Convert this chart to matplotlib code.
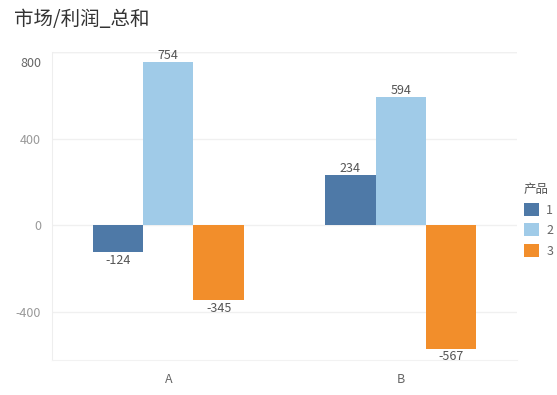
import numpy as np
import matplotlib
matplotlib.use("Agg")
import matplotlib.pyplot as plt
from matplotlib.patches import Patch
from matplotlib.transforms import ScaledTranslation

plt.rcParams['font.family'] = ['Noto Sans CJK SC', 'DejaVu Sans']

markets = ['A', 'B']
products = ['1', '2', '3']
profit = {
    '1': [-124, 234],
    '2': [754, 594],
    '3': [-345, -567],
}
colors = ['#4e79a7', '#a0cbe8', '#f28e2b']
yticks = [-400, 0, 400, 800]

fig = plt.figure(figsize=(5.57, 3.95), dpi=100)
ax = fig.add_axes([0.0934, 0.0886, 0.835, 0.78])

x = np.arange(len(markets))
w = 0.65 / 3
for i, p in enumerate(products):
    vals = profit[p]
    bars = ax.bar(x + (i - 1) * w, vals, width=w, color=colors[i], zorder=2)
    for b, v in zip(bars, vals):
        cx = b.get_x() + b.get_width() / 2
        if v >= 0:
            ax.annotate(str(v), (cx, v), xytext=(0, 0), textcoords='offset points',
                        ha='center', va='bottom', fontsize=9, color='#555555')
        else:
            ax.annotate(str(v), (cx, v), xytext=(0, -1), textcoords='offset points',
                        ha='center', va='top', fontsize=9, color='#555555')

ax.set_xlim(-0.5, 1.5)
ax.set_ylim(-620, 800)
ax.set_xticks(x)
ax.set_xticklabels(markets)
ax.set_yticks(yticks)
ax.set_yticklabels([str(t) for t in yticks])
ax.tick_params(axis='both', length=0, labelsize=9, labelcolor='#999999')
ax.tick_params(axis='x', pad=9, labelcolor='#666666')
ax.tick_params(axis='y', pad=8)
ylabels = ax.get_yticklabels()
ylabels[-1].set_transform(ylabels[-1].get_transform() + ScaledTranslation(0, -7 / 72, fig.dpi_scale_trans))
ylabels[-1].set_color('#666666')

ax.grid(axis='y', color='#f0f0f0', linewidth=1, zorder=0)
ax.axhline(800, color='#f0f0f0', linewidth=1, zorder=0)
for s in ['top', 'right']:
    ax.spines[s].set_visible(False)
ax.spines['left'].set_color('#eeeeee')
ax.spines['bottom'].set_color('#f2f2f2')

fig.text(0.025, 0.95, '市场/利润_总和', fontsize=14, color='#333333', va='center')

handles = [Patch(facecolor=c, edgecolor='none') for c in colors]
leg = fig.legend(handles, products, title='产品', loc='upper left',
                 bbox_to_anchor=(0.92, 0.565), frameon=False, fontsize=9,
                 title_fontsize=9, handlelength=1.2, handleheight=1.2,
                 handletextpad=0.6, labelspacing=0.55, alignment='left')
for t in leg.get_texts():
    t.set_color('#666666')
leg.get_title().set_color('#555555')

fig.savefig('out.png', dpi=100)
